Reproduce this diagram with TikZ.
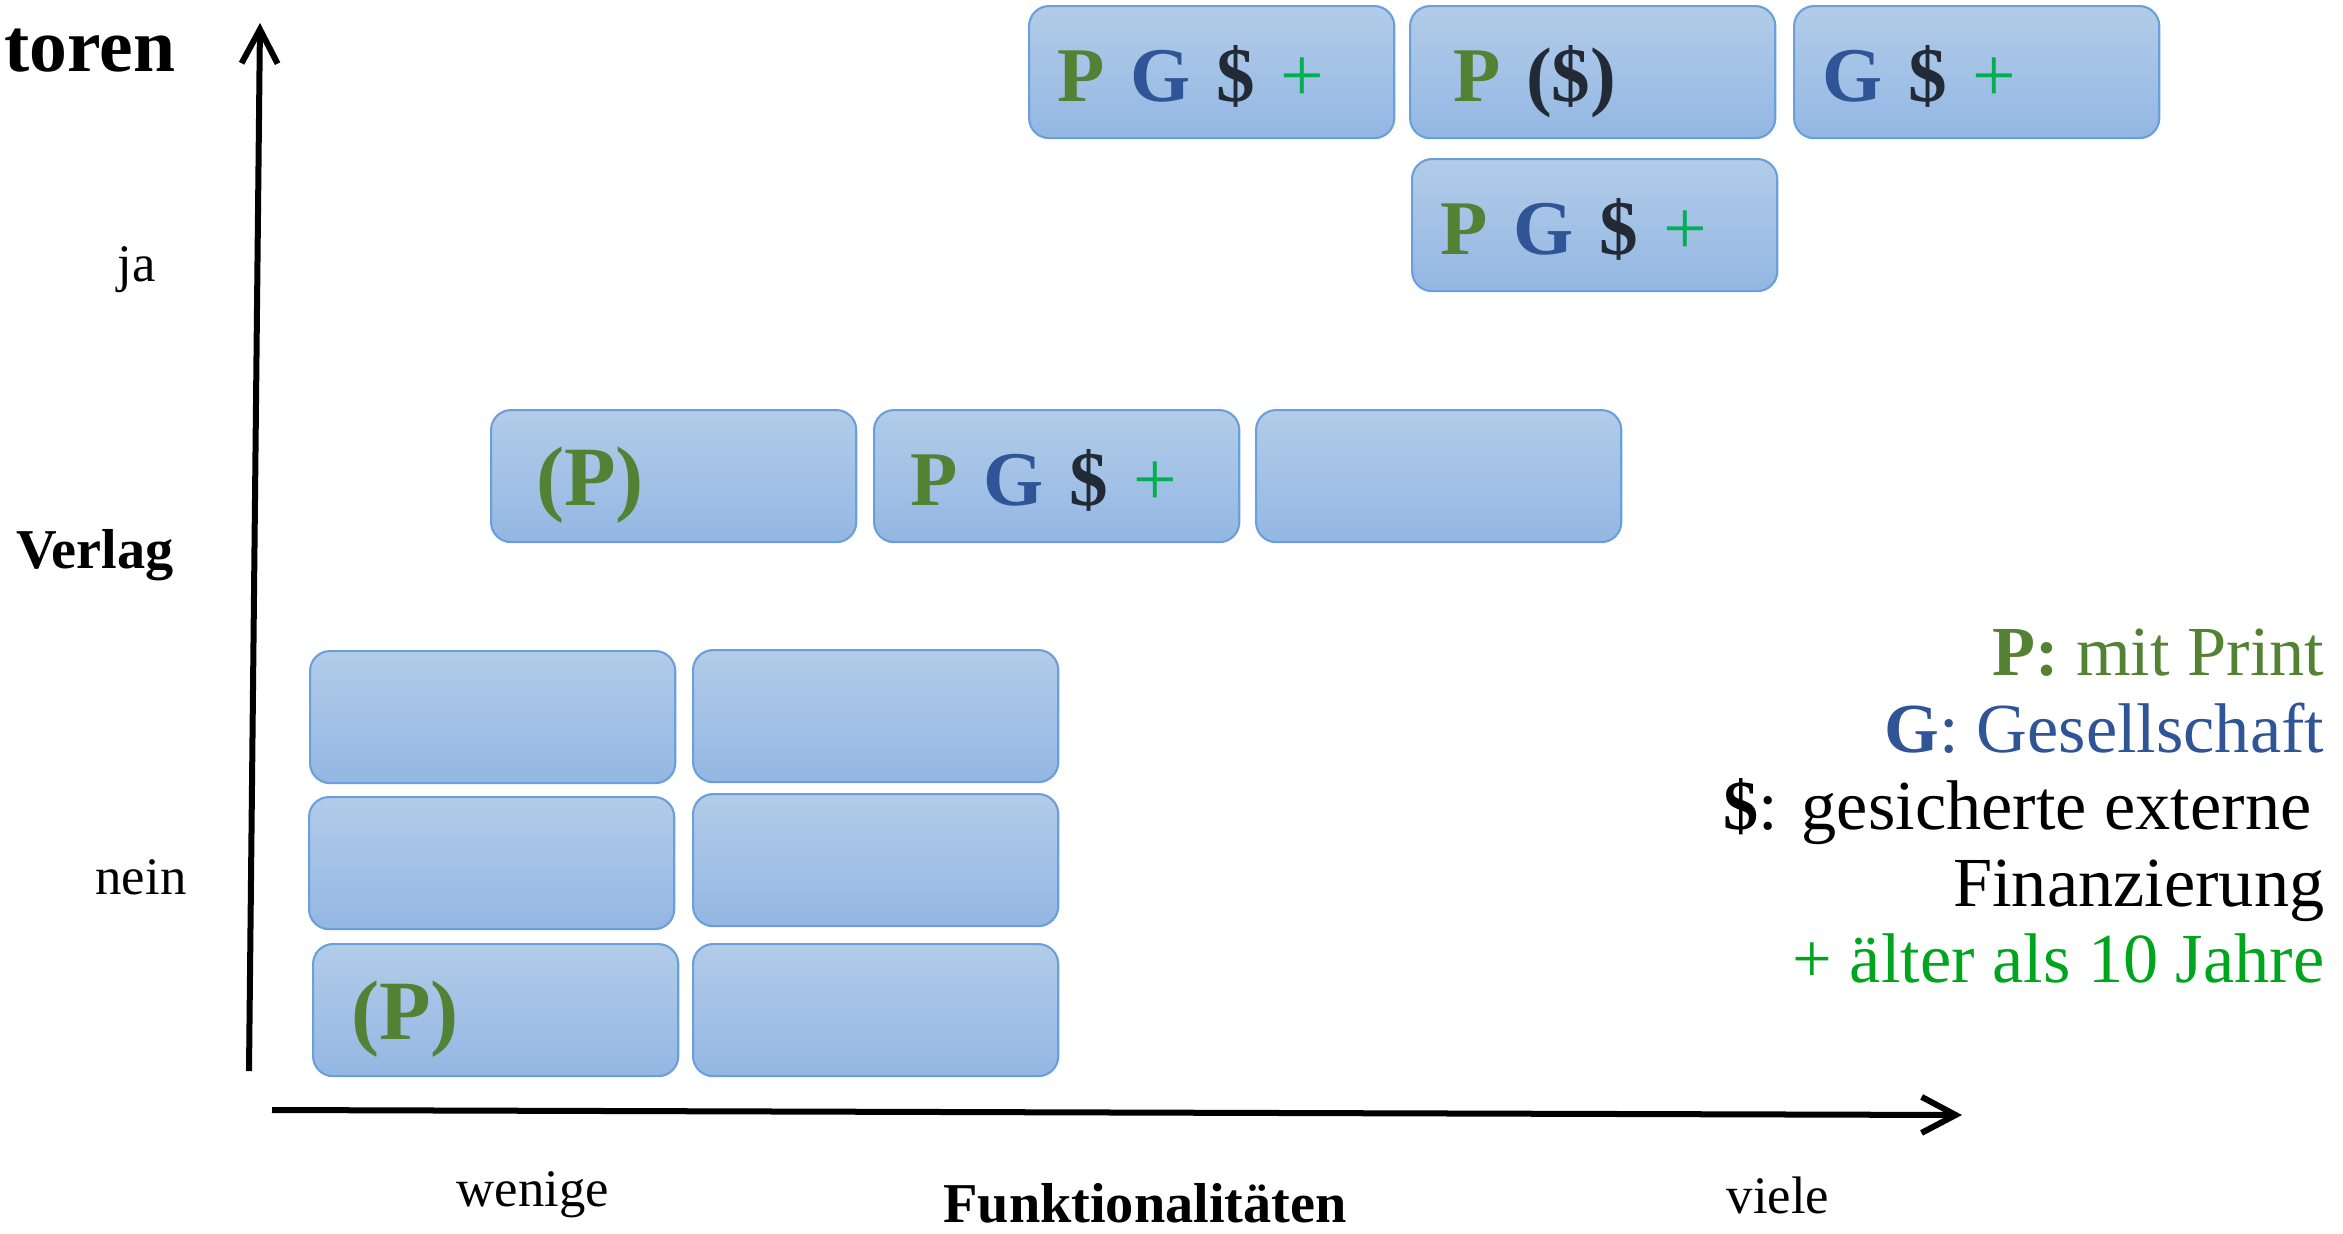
\documentclass[tikz,border=0pt]{standalone}
\usepackage{fontspec}
\setmainfont{Liberation Serif}
\usetikzlibrary{arrows.meta}
\definecolor{cP}{HTML}{548235}
\definecolor{cG}{HTML}{2F5597}
\definecolor{cD}{HTML}{222A35}
\definecolor{cPlus}{HTML}{00B050}
\definecolor{cOld}{HTML}{00A51E}
\definecolor{boxtop}{HTML}{B2CCE9}
\definecolor{boxbot}{HTML}{93B7E3}
\definecolor{boxline}{HTML}{6A9FDC}
\newcommand\mkP{\textcolor{cP}{\textbf{P}}}
\newcommand\mkG{\textcolor{cG}{\textbf{G}}}
\newcommand\mkD{\textcolor{cD}{\textbf{\$}}}
\newcommand\mkPlus{\textcolor{cPlus}{+}}
\newcommand\mkParP{\textcolor{cP}{\fontsize{24pt}{28pt}\selectfont\textbf{(P)}}}
\begin{document}
\begin{tikzpicture}[x=0.01cm,y=-0.01cm,
  cell/.style={draw=boxline, line width=0.6pt, rounded corners=0.2cm,
    top color=boxtop, bottom color=boxbot, inner xsep=0.28cm, inner ysep=0pt,
    text width=3.09cm, text height=0.95cm, text depth=0.37cm, align=left,
    anchor=north west, font=\fontsize{22pt}{26pt}\selectfont},
  axis/.style={line width=0.06cm, -{Straight Barb[length=0.34cm,width=0.36cm]}},
  lab/.style={anchor=base, inner sep=0pt, font=\fontsize{15pt}{18pt}\selectfont},
  blab/.style={anchor=base, inner sep=0pt, font=\fontsize{16pt}{19pt}\selectfont\bfseries},
  leg/.style={anchor=base east, inner sep=0pt, font=\fontsize{20pt}{24pt}\selectfont}]
\useasboundingbox (0,0) rectangle (2343,1233);
% boxes
\node[cell] (b1) at (1028,5) {\mkP\ \mkG\ \mkD\ \mkPlus};
\node[cell] (b2) at (1409,5) {\hspace*{0.15cm}\mkP\ \textcolor{cD}{\textbf{(\$)}}};
\node[cell] (b3) at (1793,5) {\mkG\ \mkD\ \mkPlus};
\node[cell] (b4) at (1411,158) {\mkP\ \mkG\ \mkD\ \mkPlus};
\node[cell] (b5) at (490,409) {\hspace*{0.17cm}\mkParP};
\node[cell] (b6) at (873,409) {\hspace*{0.08cm}\mkP\ \mkG\ \mkD\ \mkPlus};
\node[cell] (b7) at (1255,409) {};
\node[cell] (g11) at (309,650) {};
\node[cell] (g12) at (692,649) {};
\node[cell] (g21) at (308,796) {};
\node[cell] (g22) at (692,793) {};
\node[cell] (g31) at (312,943) {\hspace*{0.1cm}\mkParP};
\node[cell] (g32) at (692,943) {};
% axes
\coordinate (yb) at (249,1071);
\coordinate (yt) at (260,23);
\coordinate (xb) at (272,1110);
\coordinate (xt) at (1962,1115);
\draw[axis] (yb) -- (yt);
\draw[axis] (xb) -- (xt);
% axis labels
\node[anchor=base east, inner sep=0pt, font=\fontsize{21.5pt}{26pt}\selectfont\bfseries] (toren) at (176,71) {toren};
\node[lab] (ja) at (137,281) {ja};
\node[blab] (verlag) at (95,568) {Verlag};
\node[lab] (nein) at (141,894) {nein};
\node[lab] (wenige) at (533,1206) {wenige};
\node[blab] (funk) at (1145,1222) {Funktionalitäten};
\node[lab] (viele) at (1778,1213) {viele};
% legend
\node[leg, text=cP] (l1) at (2325,675) {\textbf{P:} mit Print};
\node[leg, text=cG] (l2) at (2325,752) {\textbf{G}: Gesellschaft};
\node[leg] (l3) at (2312,829) {\textbf{\$}: gesicherte externe};
\node[leg] (l4) at (2325,906) {Finanzierung};
\node[leg, text=cOld] (l5) at (2325,982) {+ älter als 10 Jahre};
\end{tikzpicture}
\end{document}
